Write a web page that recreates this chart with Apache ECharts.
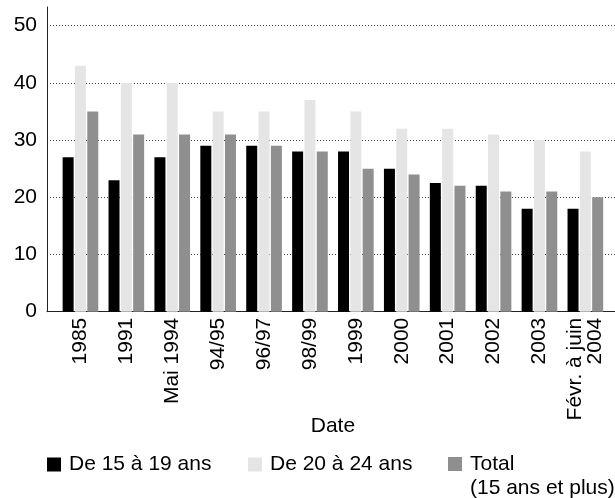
<!DOCTYPE html>
<html>
<head>
<meta charset="utf-8">
<script src="https://cdn.jsdelivr.net/npm/echarts@6/dist/echarts.min.js"></script>
<style>
  html, body { margin: 0; padding: 0; background: #fff; }
  #chart { width: 615px; height: 498px; }
</style>
</head>
<body>
<div id="chart"></div>
<script>
// Categories (survey dates)
const categories = ['1985', '1991', 'Mai 1994', '94/95', '96/97', '98/99', '1999', '2000', '2001', '2002', '2003', 'Févr. à juin\n2004'];

// Series values (%)
const age15to19 = [27, 23, 27, 29, 29, 28, 28, 25, 22.5, 22, 18, 18];
const age20to24 = [43, 40, 40, 35, 35, 37, 35, 32, 32, 31, 30, 28];
const total15plus = [35, 31, 31, 31, 29, 28, 25, 24, 22, 21, 21, 20];

// Series names
const seriesNames = ['De 15 à 19 ans', 'De 20 à 24 ans', 'Total (15 ans et plus)'];

// Value-axis ticks
const yTicks = { min: 0, max: 50, interval: 10 };

const FONT = '"Liberation Sans", Arial, sans-serif';
const TEXT = '#000';
const FS = 21;

const chart = echarts.init(document.getElementById('chart'), null, { renderer: 'canvas' });

const legendBase = {
  orient: 'horizontal',
  selectedMode: false,
  padding: 0,
  itemWidth: 14,
  itemHeight: 14,
  icon: 'rect',
  textStyle: { fontFamily: FONT, fontSize: FS, color: TEXT, lineHeight: 20, padding: [0, 0, 0, 3] }
};

chart.setOption({
  animation: false,
  backgroundColor: '#fff',
  grid: [
    // frame: axis lines, dotted grid and value labels
    { left: 47, right: 0, top: 7, bottom: 186.3 },
    // bars
    { left: 57.5, right: 6.7, top: 25.7, bottom: 186.3 }
  ],
  xAxis: [
    {
      gridIndex: 0,
      type: 'category',
      data: categories,
      axisLine: { show: true, lineStyle: { color: '#222', width: 1 } },
      axisTick: { show: false },
      axisLabel: { show: false },
      splitLine: { show: false }
    },
    {
      gridIndex: 1,
      type: 'category',
      data: categories,
      axisLine: { show: false },
      axisTick: { show: false },
      axisLabel: {
        rotate: 90,
        margin: 6,
        interval: 0,
        fontFamily: FONT,
        fontSize: FS,
        lineHeight: 20,
        color: TEXT
      },
      name: 'Date',
      nameLocation: 'middle',
      nameGap: 104,
      nameMoveOverlap: false,
      nameTextStyle: { fontFamily: FONT, fontSize: FS, color: TEXT }
    }
  ],
  yAxis: [
    {
      gridIndex: 0,
      type: 'value',
      min: yTicks.min,
      max: yTicks.max * (311.7 - 7) / (311.7 - 25.7),
      interval: yTicks.interval,
      axisLine: { show: true, lineStyle: { color: '#222', width: 1 } },
      axisTick: { show: false },
      axisLabel: {
        margin: 10,
        fontFamily: FONT,
        fontSize: FS,
        color: TEXT,
        showMaxLabel: false
      },
      splitLine: {
        show: true,
        showMaxLine: false,
        lineStyle: { color: '#444', width: 1, type: [1, 2] }
      }
    },
    {
      gridIndex: 1,
      type: 'value',
      min: yTicks.min,
      max: yTicks.max,
      interval: yTicks.interval,
      show: false
    }
  ],
  legend: [
    Object.assign({}, legendBase, { left: 47, top: 454, data: [seriesNames[0]] }),
    Object.assign({}, legendBase, { left: 248, top: 454, data: [seriesNames[1]] }),
    Object.assign({}, legendBase, {
      left: 448,
      top: 428,
      data: [seriesNames[2]],
      formatter: function () { return '\nTotal\n(15 ans et plus)'; },
      textStyle: { fontFamily: FONT, fontSize: FS, color: TEXT, lineHeight: 24, padding: [0, 0, 0, 3] }
    })
  ],
  series: [
    {
      name: seriesNames[0], type: 'bar', xAxisIndex: 1, yAxisIndex: 1,
      data: age15to19, barWidth: 11, barGap: '12%',
      itemStyle: { color: '#000000' }
    },
    {
      name: seriesNames[1], type: 'bar', xAxisIndex: 1, yAxisIndex: 1,
      data: age20to24, barWidth: 11, barGap: '12%',
      itemStyle: { color: '#e5e5e5' }
    },
    {
      name: seriesNames[2], type: 'bar', xAxisIndex: 1, yAxisIndex: 1,
      data: total15plus, barWidth: 11, barGap: '12%',
      itemStyle: { color: '#8f8f8f' }
    }
  ]
});
</script>
</body>
</html>
